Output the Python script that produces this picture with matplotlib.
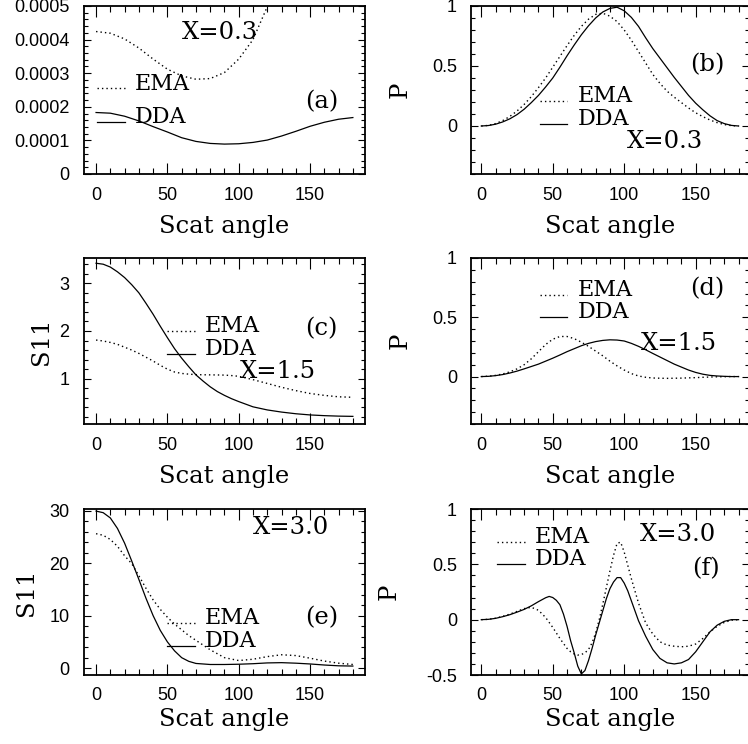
import numpy as np
import matplotlib.pyplot as plt
from matplotlib.ticker import MultipleLocator, FormatStrFormatter
from matplotlib.legend_handler import HandlerLine2D
from matplotlib.lines import Line2D

plt.rcParams['font.family'] = 'Liberation Sans'
SERIF = 'DejaVu Serif'

# scattering angle grids (deg)
theta = [0, 10, 20, 30, 40, 50, 60, 70, 80, 90, 100, 110, 120, 130, 140, 150, 160, 170, 180]
theta5 = list(range(0, 181, 5))
theta_c = [0, 5, 10, 15, 20, 25, 30, 35, 40, 45, 50, 55, 60, 65, 70, 75, 80, 85, 90, 95, 100,
           110, 120, 130, 140, 150, 160, 170, 180]
theta_e = [0, 5, 10, 15, 20, 25, 30, 35, 40, 45, 50, 55, 60, 65, 70, 80, 90, 100, 110, 120, 130, 140, 150, 160, 170, 180]
theta_f = [0, 5, 10, 15, 20, 25, 30, 35, 40, 45, 47.5, 50, 52.5, 55, 57.5, 60, 62.5, 65, 67.5, 70, 72.5,
           75, 77.5, 80, 82.5, 85, 87.5, 90, 92.5, 95, 97.5, 100, 102.5, 105, 107.5, 110, 115, 120, 125,
           130, 135, 140, 145, 150, 155, 160, 165, 170, 175, 180]

# (a) S11, X=0.3, in units of 1e-4
ema_a = [4.24, 4.19, 4.02, 3.75, 3.42, 3.12, 2.92, 2.82, 2.84, 3.02, 3.42, 4.0, 4.98, 5.9, 6.7, 7.3, 7.7, 7.95, 8.0]
dda_a = [1.83, 1.81, 1.72, 1.58, 1.41, 1.25, 1.08, 0.97, 0.91, 0.89, 0.90, 0.94, 1.01, 1.13, 1.27, 1.42, 1.54, 1.63, 1.68]

# (b) P, X=0.3
ema_b = [0, 0.005, 0.02, 0.045, 0.08, 0.125, 0.18, 0.245, 0.32, 0.40, 0.49, 0.58, 0.67, 0.755, 0.83,
         0.89, 0.93, 0.94, 0.915, 0.87, 0.80, 0.715, 0.62, 0.525, 0.43, 0.355, 0.29, 0.24, 0.195, 0.15,
         0.11, 0.078, 0.05, 0.028, 0.012, 0.003, 0]
dda_b = [0, 0.004, 0.015, 0.034, 0.06, 0.095, 0.14, 0.195, 0.255, 0.325, 0.40, 0.49, 0.585, 0.675, 0.76,
         0.835, 0.90, 0.95, 0.98, 0.99, 0.96, 0.905, 0.83, 0.735, 0.645, 0.565, 0.485, 0.405, 0.33, 0.255,
         0.19, 0.135, 0.085, 0.045, 0.02, 0.005, 0]

# (c) S11, X=1.5
ema_c = [1.81, 1.79, 1.76, 1.72, 1.66, 1.60, 1.53, 1.45, 1.37, 1.28, 1.20, 1.14, 1.11, 1.095, 1.085,
         1.082, 1.08, 1.078, 1.075, 1.065, 1.05, 0.98, 0.90, 0.82, 0.75, 0.69, 0.65, 0.62, 0.61]
dda_c = [3.42, 3.40, 3.34, 3.24, 3.12, 2.97, 2.80, 2.58, 2.35, 2.10, 1.86, 1.63, 1.43, 1.25, 1.08,
         0.95, 0.83, 0.73, 0.65, 0.58, 0.52, 0.41, 0.345, 0.30, 0.265, 0.24, 0.225, 0.215, 0.21]

# (d) P, X=1.5
ema_d = [0, 0.003, 0.01, 0.022, 0.04, 0.065, 0.10, 0.15, 0.21, 0.27, 0.315, 0.338, 0.338, 0.32, 0.29,
         0.255, 0.215, 0.175, 0.13, 0.09, 0.055, 0.025, 0.005, -0.006, -0.012, -0.014, -0.015, -0.014,
         -0.013, -0.011, -0.009, -0.006, -0.004, -0.002, -0.001, 0, 0]
dda_d = [0, 0.002, 0.008, 0.017, 0.03, 0.046, 0.065, 0.085, 0.105, 0.13, 0.155, 0.182, 0.21, 0.235, 0.26,
         0.28, 0.295, 0.305, 0.31, 0.308, 0.30, 0.28, 0.255, 0.226, 0.195, 0.165, 0.135, 0.105, 0.08,
         0.055, 0.035, 0.02, 0.01, 0.005, 0.002, 0.0, 0]

# (e) S11, X=3.0
ema_e = [25.6, 25.3, 24.5, 23.2, 21.4, 19.9, 17.6, 15.2, 13.0, 11.2, 9.7, 8.4, 7.3, 6.2, 5.3, 3.5, 2.0,
         1.45, 1.7, 2.2, 2.55, 2.4, 1.9, 1.35, 0.95, 0.7]
dda_e = [29.9, 29.6, 28.6, 26.6, 23.8, 20.4, 16.9, 13.3, 10.0, 7.2, 5.0, 3.3, 2.0, 1.3, 0.9, 0.7, 0.7,
         0.75, 0.85, 1.0, 1.05, 0.95, 0.8, 0.6, 0.45, 0.4]

# (f) P, X=3.0
ema_f = [0, 0.003, 0.013, 0.03, 0.05, 0.075, 0.10, 0.112, 0.085, 0.02, -0.025, -0.07, -0.12, -0.17, -0.215,
         -0.26, -0.29, -0.31, -0.32, -0.315, -0.30, -0.27, -0.21, -0.12, 0.0, 0.14, 0.29, 0.44, 0.58, 0.69,
         0.70, 0.61, 0.49, 0.37, 0.26, 0.15, -0.03, -0.13, -0.20, -0.23, -0.24, -0.245, -0.24, -0.22,
         -0.17, -0.11, -0.06, -0.025, -0.005, 0]
dda_f = [0, 0.003, 0.012, 0.027, 0.045, 0.068, 0.093, 0.125, 0.163, 0.198, 0.21, 0.20, 0.175, 0.135, 0.05,
         -0.06, -0.19, -0.30, -0.42, -0.49, -0.46, -0.37, -0.26, -0.14, -0.03, 0.08, 0.19, 0.28, 0.34, 0.38,
         0.38, 0.33, 0.26, 0.17, 0.08, -0.01, -0.15, -0.27, -0.35, -0.39, -0.40, -0.39, -0.36, -0.29,
         -0.20, -0.11, -0.05, -0.015, 0.0, 0.0]


class BaselineHandler(HandlerLine2D):
    # put the legend sample on the text baseline, like the original
    def create_artists(self, legend, orig_handle, xdescent, ydescent, width, height, fontsize, trans):
        return super().create_artists(legend, orig_handle, xdescent, ydescent + 0.6 * fontsize,
                                      width, height, fontsize, trans)


W, H = 748, 744
fig = plt.figure(figsize=(W / 100, H / 100), dpi=100)


def make_axes(x0, x1, top, bottom):
    return fig.add_axes([x0 / W, (H - bottom) / H, (x1 - x0) / W, (bottom - top) / H])


def draw(ax, th, ema, dda, xlim, ylim, ymaj, ymin, ylabel, ylab_x, xlab_y, leg_xy, leg_sp,
         xtxt, xtxt_xy, tag, tag_xy):
    ax.plot(th, ema, color='black', lw=1.0, ls=(0, (1, 2.2)), label='EMA')
    ax.plot(th, dda, color='black', lw=0.9, label='DDA')
    ax.set_xlim(*xlim)
    ax.set_ylim(*ylim)
    ax.xaxis.set_major_locator(MultipleLocator(50))
    ax.xaxis.set_minor_locator(MultipleLocator(10))
    ax.yaxis.set_major_locator(MultipleLocator(ymaj))
    ax.yaxis.set_minor_locator(MultipleLocator(ymin))
    ax.yaxis.set_major_formatter(FormatStrFormatter('%g'))
    ax.tick_params(which='both', direction='in', top=True, right=True, labelsize=13, width=0.8)
    ax.tick_params(axis='x', which='major', length=8, pad=9)
    ax.tick_params(axis='x', which='minor', length=4.2)
    ax.tick_params(axis='y', which='major', length=5, pad=10)
    ax.tick_params(axis='y', which='minor', length=2.6)
    for s in ax.spines.values():
        s.set_linewidth(1.3)
    ax.set_xlabel('Scat angle', family=SERIF, fontsize=17.5)
    ax.xaxis.set_label_coords(0.5, xlab_y)
    if ylabel:
        ax.set_ylabel(ylabel, family=SERIF, fontsize=17.5)
        ax.yaxis.set_label_coords(ylab_x, 0.5)
    ax.legend(loc='center left', bbox_to_anchor=leg_xy, frameon=False, borderpad=0, borderaxespad=0,
              handlelength=1.25, handletextpad=0.45, labelspacing=leg_sp,
              prop={'family': SERIF, 'size': 16}, handler_map={Line2D: BaselineHandler()})
    ax.text(xtxt_xy[0], xtxt_xy[1], xtxt, transform=ax.transAxes, ha='left', va='center',
            family=SERIF, fontsize=17.5)
    ax.text(tag_xy[0], tag_xy[1], tag, transform=ax.transAxes, ha='left', va='center',
            family=SERIF, fontsize=17.5)


xl_left = (-8.8, 188.5)
xl_right = (-7.2, 187.3)

ax = make_axes(83.5, 365, 6, 174)
draw(ax, theta, np.array(ema_a) * 1e-4, np.array(dda_a) * 1e-4, xl_left, (0, 0.0005), 0.0001, 0.00002,
     None, 0, -0.244, (0.047, 0.44), 0.5, 'X=0.3', (0.349, 0.84), '(a)', (0.787, 0.43))

ax = make_axes(471, 749, 6, 174)
draw(ax, theta5, ema_b, dda_b, xl_right, (-0.4, 1), 0.5, 0.1,
     'P', -0.213, -0.244, (0.247, 0.395), 0.03, 'X=0.3', (0.559, 0.192), '(b)', (0.788, 0.652))

ax = make_axes(83.5, 365, 258, 424)
draw(ax, theta_c, ema_c, dda_c, xl_left, (0.05, 3.53), 1, 0.2,
     'S11', -0.109, -0.247, (0.296, 0.52), 0.03, 'X=1.5', (0.556, 0.315), '(c)', (0.787, 0.577))

ax = make_axes(471, 749, 258, 424)
draw(ax, theta5, ema_d, dda_d, xl_right, (-0.4, 1), 0.5, 0.1,
     'P', -0.213, -0.247, (0.247, 0.74), 0.03, 'X=1.5', (0.61, 0.482), '(d)', (0.787, 0.817))

ax = make_axes(83.5, 365, 509, 675)
draw(ax, theta_e, ema_e, dda_e, xl_left, (-1.3, 30.3), 10, 2,
     'S11', -0.163, -0.199, (0.296, 0.275), 0.03, 'X=3.0', (0.6, 0.89), '(e)', (0.787, 0.343))

ax = make_axes(471, 749, 509, 675)
draw(ax, theta_f, ema_f, dda_f, xl_right, (-0.5, 1), 0.5, 0.1,
     'P', -0.254, -0.199, (0.095, 0.765), 0.03, 'X=3.0', (0.608, 0.849), '(f)', (0.794, 0.639))

fig.savefig('out.png', dpi=100)
